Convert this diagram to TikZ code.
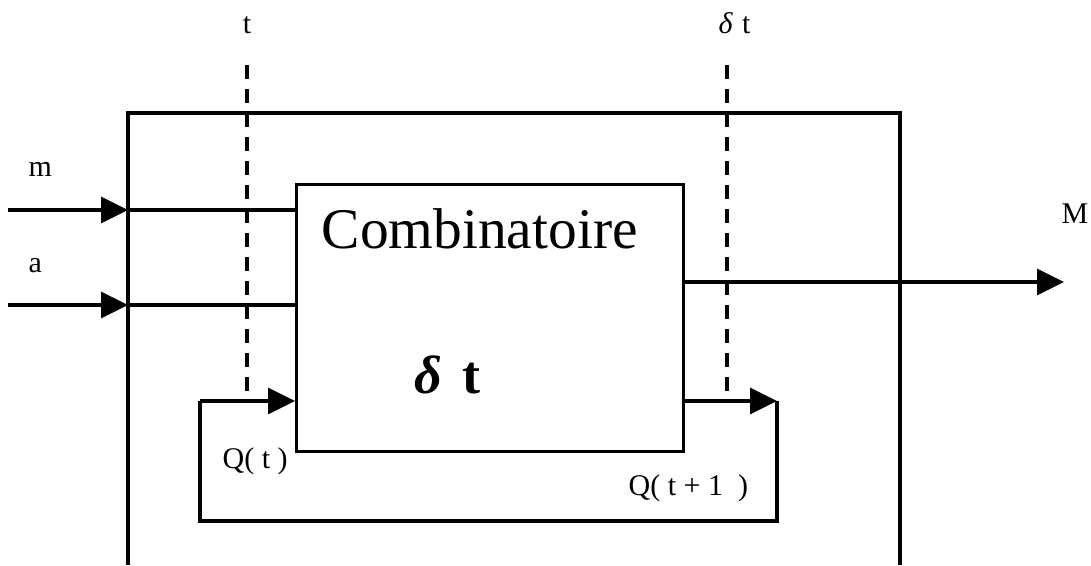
\documentclass[tikz,border=0pt]{standalone}
\usepackage{fontspec}
\setmainfont{Liberation Serif}
\usetikzlibrary{arrows.meta}
\begin{document}
\begin{tikzpicture}[x=1pt,y=-1pt,line width=3.3pt,
  arr/.style={-{Triangle[length=27pt,width=26pt]}},
  lbl/.style={font=\fontsize{30}{34}\selectfont,inner sep=0pt,anchor=base west},
  dsh/.style={line width=4.5pt,dash pattern=on 14pt off 10pt},
  boxst/.style={draw,minimum width=387pt,minimum height=267pt,inner sep=0pt,anchor=north west}]
\useasboundingbox (0,0) rectangle (1091,565);
% dashed time lines (under the solid lines)
\coordinate (d1t) at (247,65);
\coordinate (d1b) at (247,401);
\coordinate (d2t) at (727,65);
\coordinate (d2b) at (727,401);
\draw[dsh] (d1t) -- (d1b);
\draw[dsh] (d2t) -- (d2b);
% combinational block
\node[boxst] (comb) at (295,183) {};
\node[font=\fontsize{57.5}{62}\selectfont,inner sep=0pt,anchor=base west] (ctitle) at (320,248) {Combinatoire};
\node[inner sep=0pt,anchor=base west,font=\fontsize{54}{58}\selectfont] (cdelta) at (413,393) {\textbf{\textit{δ}}\hspace{20pt}\textbf{t}};
% outer frame (open at bottom)
\coordinate (obl) at (128,565);
\coordinate (otl) at (128,113);
\coordinate (otr) at (900,113);
\coordinate (obr) at (900,565);
\draw (obl) -- (otl) -- (otr) -- (obr);
% inputs
\coordinate (min) at (8,210);
\coordinate (mfr) at (128,210);
\coordinate (ain) at (8,305);
\coordinate (afr) at (128,305);
\draw[arr] (min) -- (mfr);
\draw (mfr) -- (comb.west |- mfr);
\draw[arr] (ain) -- (afr);
\draw (afr) -- (comb.west |- afr);
% output
\coordinate (oend) at (1064,282);
\draw[arr] (comb.east |- oend) -- (oend);
% feedback loop
\coordinate (fbl) at (200,401);
\coordinate (fbbl) at (200,521);
\coordinate (fbbr) at (777,521);
\coordinate (fbr) at (777,401);
\draw[arr] (comb.east |- fbr) -- (fbr);
\draw (fbr) -- (fbbr) -- (fbbl) -- (fbl);
\draw[arr] (fbl) -- (comb.west |- fbl);
% labels
\node[lbl,anchor=base] (lt) at (247,33) {t};
\node[lbl] (ldt) at (717,33) {\textit{δ}\hspace{9pt}t};
\node[lbl] (lm) at (27,176) {m};
\node[lbl] (la) at (27,272) {a};
\node[lbl] (lM) at (1060,223) {M};
\node[lbl] (lq) at (221,468) {Q( t )};
\node[lbl] (lq1) at (627,495) {Q( t + 1 \ )};
\end{tikzpicture}
\end{document}
